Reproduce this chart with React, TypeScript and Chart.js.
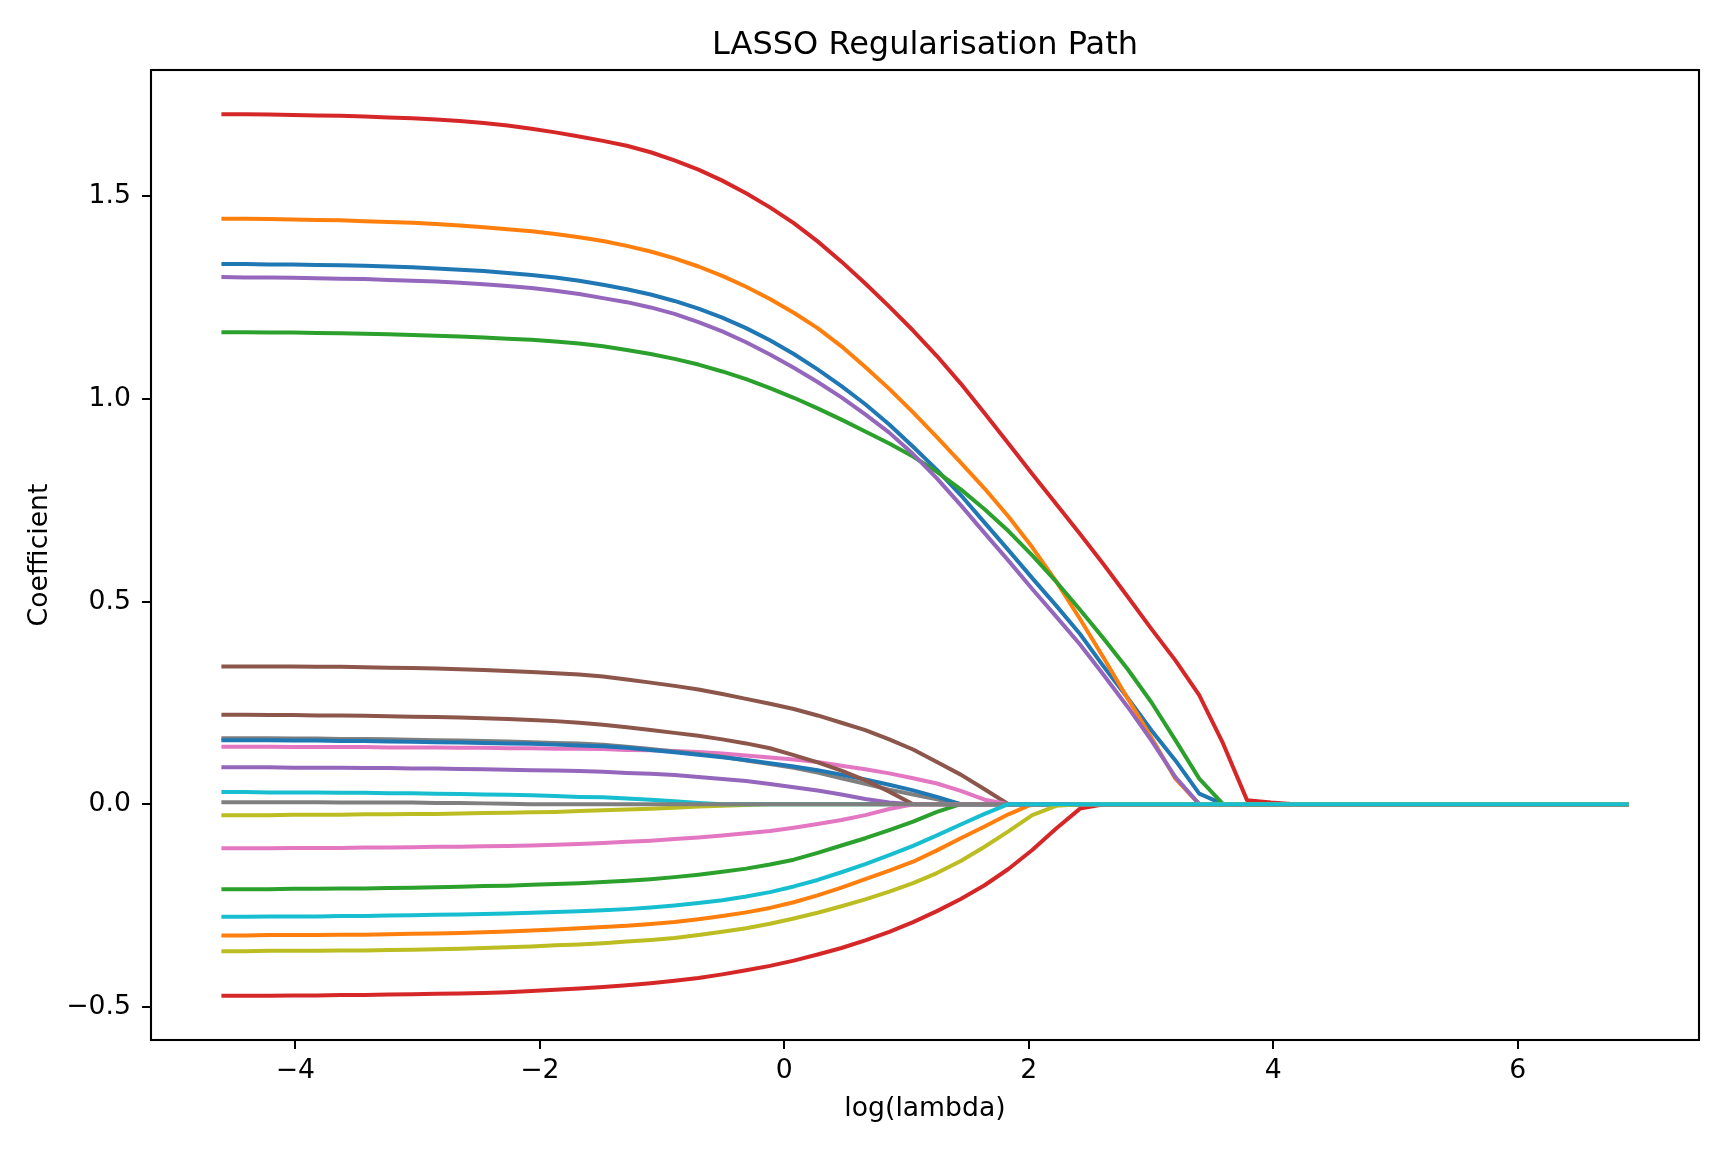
import React, { useEffect, useRef } from "react";
import { Chart, registerables } from "chart.js";

Chart.register(...registerables);

// log(lambda) grid: 60 steps from log(0.01) to log(1000)
const logLambda = [
  -4.605, -4.41, -4.215, -4.02, -3.825, -3.629, -3.434, -3.239, -3.044, -2.849,
  -2.654, -2.459, -2.264, -2.068, -1.873, -1.678, -1.483, -1.288, -1.093, -0.898,
  -0.702, -0.507, -0.312, -0.117, 0.078, 0.273, 0.468, 0.663, 0.859, 1.054,
  1.249, 1.444, 1.639, 1.834, 2.029, 2.225, 2.42, 2.615, 2.81, 3.005,
  3.2, 3.395, 3.59, 3.786, 3.981, 4.176, 4.371, 4.566, 4.761, 4.956,
  5.152, 5.347, 5.542, 5.737, 5.932, 6.127, 6.322, 6.517, 6.713, 6.908,
];

// coefficient paths, one per feature
const coef00 = [
  1.333, 1.333, 1.332, 1.332, 1.331, 1.33, 1.329, 1.327, 1.325, 1.322,
  1.319, 1.316, 1.311, 1.306, 1.3, 1.292, 1.282, 1.271, 1.258, 1.242,
  1.223, 1.201, 1.175, 1.145, 1.111, 1.073, 1.032, 0.987, 0.937, 0.882,
  0.825, 0.763, 0.695, 0.627, 0.558, 0.49, 0.42, 0.339, 0.262, 0.182,
  0.108, 0.026, 0, 0, 0, 0, 0, 0, 0, 0,
  0, 0, 0, 0, 0, 0, 0, 0, 0, 0,
];
const coef01 = [
  1.445, 1.445, 1.444, 1.443, 1.442, 1.441, 1.439, 1.437, 1.435, 1.432,
  1.428, 1.424, 1.419, 1.414, 1.407, 1.399, 1.39, 1.378, 1.364, 1.347,
  1.327, 1.304, 1.277, 1.247, 1.213, 1.175, 1.13, 1.079, 1.025, 0.967,
  0.906, 0.843, 0.779, 0.71, 0.634, 0.55, 0.457, 0.36, 0.261, 0.164,
  0.063, 0, 0, 0, 0, 0, 0, 0, 0, 0,
  0, 0, 0, 0, 0, 0, 0, 0, 0, 0,
];
const coef02 = [
  1.165, 1.165, 1.164, 1.164, 1.163, 1.162, 1.161, 1.16, 1.158, 1.156,
  1.154, 1.152, 1.149, 1.146, 1.142, 1.137, 1.13, 1.121, 1.111, 1.099,
  1.085, 1.068, 1.049, 1.027, 1.003, 0.977, 0.949, 0.92, 0.89, 0.858,
  0.82, 0.777, 0.728, 0.674, 0.614, 0.549, 0.48, 0.408, 0.333, 0.251,
  0.158, 0.063, 0, 0, 0, 0, 0, 0, 0, 0,
  0, 0, 0, 0, 0, 0, 0, 0, 0, 0,
];
const coef03 = [
  1.703, 1.703, 1.702, 1.701, 1.7, 1.699, 1.697, 1.695, 1.693, 1.69,
  1.686, 1.681, 1.675, 1.667, 1.658, 1.648, 1.637, 1.625, 1.609, 1.589,
  1.566, 1.539, 1.508, 1.473, 1.434, 1.389, 1.339, 1.285, 1.228, 1.169,
  1.106, 1.038, 0.965, 0.89, 0.815, 0.741, 0.667, 0.591, 0.512, 0.432,
  0.355, 0.269, 0.15, 0.01, 0.004, 0, 0, 0, 0, 0,
  0, 0, 0, 0, 0, 0, 0, 0, 0, 0,
];
const coef04 = [
  1.301, 1.3, 1.3, 1.299, 1.298, 1.297, 1.296, 1.294, 1.292, 1.29,
  1.287, 1.283, 1.279, 1.274, 1.267, 1.259, 1.249, 1.239, 1.226, 1.21,
  1.19, 1.167, 1.14, 1.11, 1.077, 1.042, 1.004, 0.962, 0.917, 0.864,
  0.804, 0.738, 0.669, 0.601, 0.531, 0.463, 0.394, 0.318, 0.24, 0.157,
  0.067, 0, 0, 0, 0, 0, 0, 0, 0, 0,
  0, 0, 0, 0, 0, 0, 0, 0, 0, 0,
];
const coef05 = [
  0.34, 0.34, 0.34, 0.34, 0.339, 0.339, 0.338, 0.337, 0.336, 0.335,
  0.333, 0.331, 0.329, 0.326, 0.323, 0.32, 0.315, 0.308, 0.3, 0.292,
  0.283, 0.272, 0.26, 0.248, 0.235, 0.219, 0.201, 0.183, 0.16, 0.135,
  0.104, 0.073, 0.037, 0, 0, 0, 0, 0, 0, 0,
  0, 0, 0, 0, 0, 0, 0, 0, 0, 0,
  0, 0, 0, 0, 0, 0, 0, 0, 0, 0,
];
const coef06 = [
  0.142, 0.142, 0.142, 0.141, 0.141, 0.141, 0.141, 0.14, 0.14, 0.14,
  0.139, 0.139, 0.138, 0.138, 0.137, 0.137, 0.136, 0.134, 0.133, 0.131,
  0.129, 0.125, 0.12, 0.115, 0.11, 0.104, 0.095, 0.086, 0.076, 0.064,
  0.051, 0.033, 0.011, 0, 0, 0, 0, 0, 0, 0,
  0, 0, 0, 0, 0, 0, 0, 0, 0, 0,
  0, 0, 0, 0, 0, 0, 0, 0, 0, 0,
];
const coef07 = [
  0.163, 0.163, 0.163, 0.162, 0.162, 0.161, 0.161, 0.16, 0.159, 0.158,
  0.157, 0.156, 0.155, 0.153, 0.151, 0.15, 0.147, 0.142, 0.136, 0.13,
  0.124, 0.117, 0.108, 0.099, 0.09, 0.078, 0.064, 0.05, 0.036, 0.024,
  0.012, 0, 0, 0, 0, 0, 0, 0, 0, 0,
  0, 0, 0, 0, 0, 0, 0, 0, 0, 0,
  0, 0, 0, 0, 0, 0, 0, 0, 0, 0,
];
const coef08 = [
  -0.027, -0.027, -0.027, -0.026, -0.026, -0.026, -0.025, -0.025, -0.024, -0.024,
  -0.023, -0.022, -0.021, -0.02, -0.019, -0.017, -0.015, -0.013, -0.011, -0.009,
  -0.006, -0.004, -0.002, 0, 0, 0, 0, 0, 0, 0,
  0, 0, 0, 0, 0, 0, 0, 0, 0, 0,
  0, 0, 0, 0, 0, 0, 0, 0, 0, 0,
  0, 0, 0, 0, 0, 0, 0, 0, 0, 0,
];
const coef09 = [
  0.03, 0.03, 0.029, 0.029, 0.029, 0.028, 0.028, 0.027, 0.027, 0.026,
  0.025, 0.024, 0.023, 0.022, 0.02, 0.018, 0.017, 0.014, 0.011, 0.007,
  0.003, 0, 0, 0, 0, 0, 0, 0, 0, 0,
  0, 0, 0, 0, 0, 0, 0, 0, 0, 0,
  0, 0, 0, 0, 0, 0, 0, 0, 0, 0,
  0, 0, 0, 0, 0, 0, 0, 0, 0, 0,
];
const coef10 = [
  0.158, 0.158, 0.158, 0.157, 0.157, 0.156, 0.156, 0.155, 0.154, 0.153,
  0.152, 0.151, 0.15, 0.149, 0.147, 0.145, 0.143, 0.139, 0.134, 0.128,
  0.122, 0.116, 0.109, 0.101, 0.093, 0.084, 0.073, 0.061, 0.048, 0.034,
  0.018, 0, 0, 0, 0, 0, 0, 0, 0, 0,
  0, 0, 0, 0, 0, 0, 0, 0, 0, 0,
  0, 0, 0, 0, 0, 0, 0, 0, 0, 0,
];
const coef11 = [
  -0.324, -0.324, -0.323, -0.323, -0.323, -0.322, -0.322, -0.321, -0.32, -0.319,
  -0.318, -0.316, -0.314, -0.312, -0.309, -0.306, -0.303, -0.3, -0.296, -0.291,
  -0.284, -0.276, -0.267, -0.256, -0.242, -0.225, -0.206, -0.185, -0.164, -0.142,
  -0.114, -0.084, -0.055, -0.025, 0, 0, 0, 0, 0, 0,
  0, 0, 0, 0, 0, 0, 0, 0, 0, 0,
  0, 0, 0, 0, 0, 0, 0, 0, 0, 0,
];
const coef12 = [
  -0.21, -0.21, -0.21, -0.209, -0.209, -0.208, -0.208, -0.207, -0.206, -0.205,
  -0.204, -0.202, -0.201, -0.199, -0.197, -0.195, -0.192, -0.189, -0.185, -0.18,
  -0.174, -0.167, -0.159, -0.149, -0.137, -0.12, -0.102, -0.084, -0.064, -0.043,
  -0.019, 0, 0, 0, 0, 0, 0, 0, 0, 0,
  0, 0, 0, 0, 0, 0, 0, 0, 0, 0,
  0, 0, 0, 0, 0, 0, 0, 0, 0, 0,
];
const coef13 = [
  -0.473, -0.473, -0.473, -0.472, -0.472, -0.471, -0.471, -0.47, -0.469, -0.468,
  -0.467, -0.466, -0.464, -0.461, -0.458, -0.455, -0.451, -0.447, -0.442, -0.436,
  -0.429, -0.42, -0.41, -0.399, -0.386, -0.371, -0.355, -0.336, -0.315, -0.291,
  -0.264, -0.234, -0.2, -0.16, -0.113, -0.06, -0.011, 0, 0, 0,
  0, 0, 0, 0, 0, 0, 0, 0, 0, 0,
  0, 0, 0, 0, 0, 0, 0, 0, 0, 0,
];
const coef14 = [
  0.091, 0.091, 0.091, 0.09, 0.09, 0.09, 0.089, 0.089, 0.088, 0.088,
  0.087, 0.086, 0.085, 0.084, 0.083, 0.082, 0.08, 0.077, 0.075, 0.072,
  0.067, 0.062, 0.057, 0.05, 0.042, 0.034, 0.024, 0.013, 0.004, 0,
  0, 0, 0, 0, 0, 0, 0, 0, 0, 0,
  0, 0, 0, 0, 0, 0, 0, 0, 0, 0,
  0, 0, 0, 0, 0, 0, 0, 0, 0, 0,
];
const coef15 = [
  0.221, 0.221, 0.22, 0.22, 0.219, 0.219, 0.218, 0.217, 0.216, 0.215,
  0.214, 0.212, 0.21, 0.208, 0.205, 0.201, 0.196, 0.19, 0.183, 0.176,
  0.169, 0.16, 0.15, 0.138, 0.121, 0.103, 0.083, 0.059, 0.031, 0,
  0, 0, 0, 0, 0, 0, 0, 0, 0, 0,
  0, 0, 0, 0, 0, 0, 0, 0, 0, 0,
  0, 0, 0, 0, 0, 0, 0, 0, 0, 0,
];
const coef16 = [
  -0.109, -0.109, -0.109, -0.108, -0.108, -0.108, -0.107, -0.107, -0.106, -0.105,
  -0.105, -0.104, -0.103, -0.102, -0.1, -0.098, -0.096, -0.093, -0.09, -0.086,
  -0.082, -0.077, -0.072, -0.066, -0.058, -0.049, -0.039, -0.027, -0.012, 0,
  0, 0, 0, 0, 0, 0, 0, 0, 0, 0,
  0, 0, 0, 0, 0, 0, 0, 0, 0, 0,
  0, 0, 0, 0, 0, 0, 0, 0, 0, 0,
];
const coef17 = [
  0.005, 0.005, 0.005, 0.005, 0.005, 0.004, 0.004, 0.004, 0.004, 0.003,
  0.003, 0.002, 0.001, 0, 0, 0, 0, 0, 0, 0,
  0, 0, 0, 0, 0, 0, 0, 0, 0, 0,
  0, 0, 0, 0, 0, 0, 0, 0, 0, 0,
  0, 0, 0, 0, 0, 0, 0, 0, 0, 0,
  0, 0, 0, 0, 0, 0, 0, 0, 0, 0,
];
const coef18 = [
  -0.363, -0.363, -0.362, -0.362, -0.362, -0.361, -0.361, -0.36, -0.359, -0.358,
  -0.357, -0.355, -0.353, -0.351, -0.348, -0.346, -0.343, -0.339, -0.335, -0.33,
  -0.323, -0.315, -0.306, -0.295, -0.282, -0.268, -0.252, -0.235, -0.216, -0.195,
  -0.17, -0.14, -0.105, -0.067, -0.027, -0.004, 0, 0, 0, 0,
  0, 0, 0, 0, 0, 0, 0, 0, 0, 0,
  0, 0, 0, 0, 0, 0, 0, 0, 0, 0,
];
const coef19 = [
  -0.278, -0.278, -0.277, -0.277, -0.277, -0.276, -0.276, -0.275, -0.274, -0.273,
  -0.272, -0.271, -0.27, -0.268, -0.266, -0.264, -0.262, -0.259, -0.255, -0.25,
  -0.244, -0.237, -0.228, -0.217, -0.203, -0.187, -0.168, -0.148, -0.126, -0.103,
  -0.077, -0.05, -0.024, 0, 0, 0, 0, 0, 0, 0,
  0, 0, 0, 0, 0, 0, 0, 0, 0, 0,
  0, 0, 0, 0, 0, 0, 0, 0, 0, 0,
];

const coefficientPaths = [
  coef00, coef01, coef02, coef03, coef04, coef05, coef06, coef07, coef08, coef09,
  coef10, coef11, coef12, coef13, coef14, coef15, coef16, coef17, coef18, coef19,
];

const xTickValues = [-4, -2, 0, 2, 4, 6];
const yTickValues = [-0.5, 0, 0.5, 1, 1.5];

// matplotlib tab10 cycle
const tab10 = [
  "#1f77b4", "#ff7f0e", "#2ca02c", "#d62728", "#9467bd",
  "#8c564b", "#e377c2", "#7f7f7f", "#bcbd22", "#17becf",
];

const FONT = "DejaVu Sans";
const minus = (s: string) => s.replace("-", "\u2212");

// frame around the axes + title centred on the axes
const framePlugin = {
  id: "mplFrame",
  afterDraw(chart: Chart) {
    const { ctx, chartArea } = chart;
    const { left, top, right, bottom } = chartArea;
    ctx.save();
    ctx.strokeStyle = "#000";
    ctx.lineWidth = 2.1;
    ctx.strokeRect(left, top, right - left, bottom - top);
    ctx.fillStyle = "#000";
    ctx.font = `32px "${FONT}"`;
    ctx.textAlign = "center";
    ctx.textBaseline = "alphabetic";
    ctx.fillText("LASSO Regularisation Path", (left + right) / 2, top - 16);
    ctx.restore();
  },
};

export default function App() {
  const canvasRef = useRef<HTMLCanvasElement | null>(null);

  useEffect(() => {
    if (!canvasRef.current) return;
    const ctx = canvasRef.current.getContext("2d");
    if (!ctx) return;

    // later features are drawn on top, as in matplotlib
    const datasets = coefficientPaths.map((path, i) => ({
      label: `x${i}`,
      data: logLambda.map((x, j) => ({ x, y: path[j] })),
      borderColor: tab10[i % 10],
      backgroundColor: tab10[i % 10],
      borderWidth: 4,
      pointRadius: 0,
      tension: 0,
      fill: false,
      order: coefficientPaths.length - i,
      borderJoinStyle: "round" as const,
    }));

    const tickGrid = {
      display: true,
      drawOnChartArea: false,
      drawTicks: true,
      tickLength: 9,
      tickWidth: 2,
      tickColor: "#000",
      color: "#000",
      lineWidth: 2,
    };

    const chart = new Chart(ctx, {
      type: "line",
      data: { datasets },
      options: {
        animation: false,
        responsive: false,
        devicePixelRatio: 1,
        layout: { padding: { top: 70, right: 29, bottom: 0, left: 0 } },
        plugins: {
          legend: { display: false },
          tooltip: { enabled: false },
          title: { display: false },
        },
        scales: {
          x: {
            type: "linear",
            min: -5.181,
            max: 7.484,
            border: { display: false },
            grid: tickGrid,
            afterFit: (scale: any) => {
              scale.height = 112;
            },
            afterBuildTicks: (scale: any) => {
              scale.ticks = xTickValues.map((value) => ({ value }));
            },
            ticks: {
              autoSkip: false,
              maxRotation: 0,
              padding: 6,
              color: "#000",
              font: { family: FONT, size: 26.67 },
              callback: (v: any) => minus(String(v)),
            },
            title: {
              display: true,
              text: "log(lambda)",
              color: "#000",
              font: { family: FONT, size: 26.67 },
              padding: { top: 0, bottom: 27 },
            },
          },
          y: {
            type: "linear",
            min: -0.582,
            max: 1.812,
            border: { display: false },
            grid: tickGrid,
            afterFit: (scale: any) => {
              scale.width = 151;
            },
            afterBuildTicks: (scale: any) => {
              scale.ticks = yTickValues.map((value) => ({ value }));
            },
            ticks: {
              autoSkip: false,
              padding: 11,
              color: "#000",
              font: { family: FONT, size: 26.67 },
              callback: (v: any) => minus(Number(v).toFixed(1)),
            },
            title: {
              display: true,
              text: "Coefficient",
              color: "#000",
              font: { family: FONT, size: 26.67 },
              padding: { top: 24, bottom: 0 },
            },
          },
        },
      },
      plugins: [framePlugin],
    });

    return () => {
      chart.destroy();
    };
  }, []);

  return (
    <div style={{ position: "absolute", left: 0, top: 0, width: 1728, height: 1152, background: "#fff" }}>
      <canvas ref={canvasRef} width={1728} height={1152} style={{ width: 1728, height: 1152 }} />
    </div>
  );
}
